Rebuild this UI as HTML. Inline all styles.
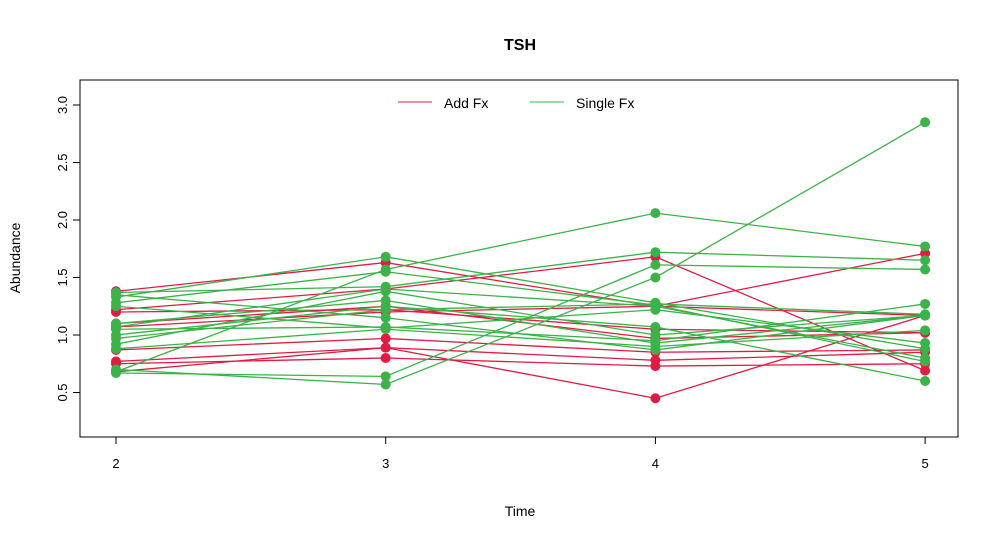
<!DOCTYPE html>
<html><head><meta charset="utf-8"><style>
body{margin:0;background:#fff;font-family:"Liberation Sans",Arial,sans-serif}
svg{display:block}
</style></head><body>
<svg id="chart" width="1000" height="540">
<text x="520" y="50" text-anchor="middle" font-size="16" font-weight="bold">TSH</text>
<rect x="80" y="80" width="878" height="357" fill="none" stroke="#000"/>
<text x="520" y="516" text-anchor="middle" font-size="14">Time</text>
<text transform="translate(20,258) rotate(-90)" text-anchor="middle" font-size="14">Abundance</text>
<g id="axes"></g>
<g id="lines"></g>
<g id="points"></g>
<g>
<line x1="398" y1="102" x2="432" y2="102" stroke="#DF1C44"/>
<text x="444" y="108" font-size="14">Add Fx</text>
<line x1="530" y1="102" x2="564" y2="102" stroke="#3DB24A"/>
<text x="576" y="108" font-size="14">Single Fx</text>
</g>
</svg>
<script>
const times = [2, 3, 4, 5];
const yTicks = [0.5, 1.0, 1.5, 2.0, 2.5, 3.0];
const addFx = [
 [1.38,1.63,1.25,1.17],
 [1.22,1.40,1.68,0.69],
 [1.20,1.22,1.05,1.02],
 [1.07,1.20,1.25,1.71],
 [0.87,0.97,0.85,0.87],
 [0.77,0.89,0.78,0.85],
 [0.75,0.80,0.73,0.75],
 [0.68,0.89,0.45,1.17],
 [1.10,1.25,0.97,1.02]
];
const singleFx = [
 [0.68,1.57,2.06,1.77],
 [0.70,0.57,1.50,2.85],
 [0.67,0.64,1.61,1.57],
 [1.37,1.42,1.72,1.65],
 [1.33,1.68,1.28,0.88],
 [1.28,1.55,1.26,0.77],
 [1.10,1.30,0.93,1.17],
 [1.05,1.07,0.95,1.27],
 [1.00,1.25,1.07,0.60],
 [0.92,1.38,1.00,1.17],
 [0.88,1.05,0.90,1.04],
 [1.25,1.06,1.22,0.93],
 [1.35,1.15,0.87,1.17],
 [1.07,1.40,1.25,0.80],
 [0.97,1.22,1.27,1.18]
];
const NS="http://www.w3.org/2000/svg";
function xs(t){return 116+(t-2)*269.7;}
function ys(v){return 335-(v-1)*115;}
function mk(tag,attrs,parent){const e=document.createElementNS(NS,tag);for(const k in attrs)e.setAttribute(k,attrs[k]);parent.appendChild(e);return e;}
const axes=document.getElementById('axes');
mk('line',{x1:xs(2),y1:437,x2:xs(5),y2:437,stroke:'#000'},axes);
times.forEach(t=>{
 const l=mk('line',{x1:xs(t),y1:437,x2:xs(t),y2:444,stroke:'#000'},axes);
 
 
 const tx=mk('text',{x:xs(t),y:468,'text-anchor':'middle','font-size':13},axes);
 tx.textContent=t;
 
 
});
mk('line',{x1:80,y1:ys(0.5),x2:80,y2:ys(3),stroke:'#000'},axes);
yTicks.forEach(v=>{
 const l=mk('line',{x1:73,y1:ys(v),x2:80,y2:ys(v),stroke:'#000'},axes);
 
 
 const tx=mk('text',{transform:`translate(67,${ys(v)}) rotate(-90)`,'text-anchor':'middle','font-size':13},axes);
 tx.textContent=v.toFixed(1);
 
 
});
const lg=document.getElementById('lines'), pg=document.getElementById('points');
function drawSeries(data,color,name){
 data.forEach(s=>{
  const pts=s.map((v,i)=>xs(times[i])+','+ys(v)).join(' ');
  const pl=mk('polyline',{points:pts,fill:'none',stroke:color,'stroke-width':1.3},lg);
  
  
 });
}
function drawPoints(data,color,name){
 data.forEach(s=>{
  s.forEach((v,i)=>{
   const c=mk('circle',{cx:xs(times[i]),cy:ys(v),r:5,fill:color},pg);
   
   
  });
 });
}
drawSeries(addFx,'#DF1C44','add-fx');
drawSeries(singleFx,'#3DB24A','single-fx');
drawPoints(addFx,'#DF1C44','add-fx');
drawPoints(singleFx,'#3DB24A','single-fx');
</script>
</body></html>
